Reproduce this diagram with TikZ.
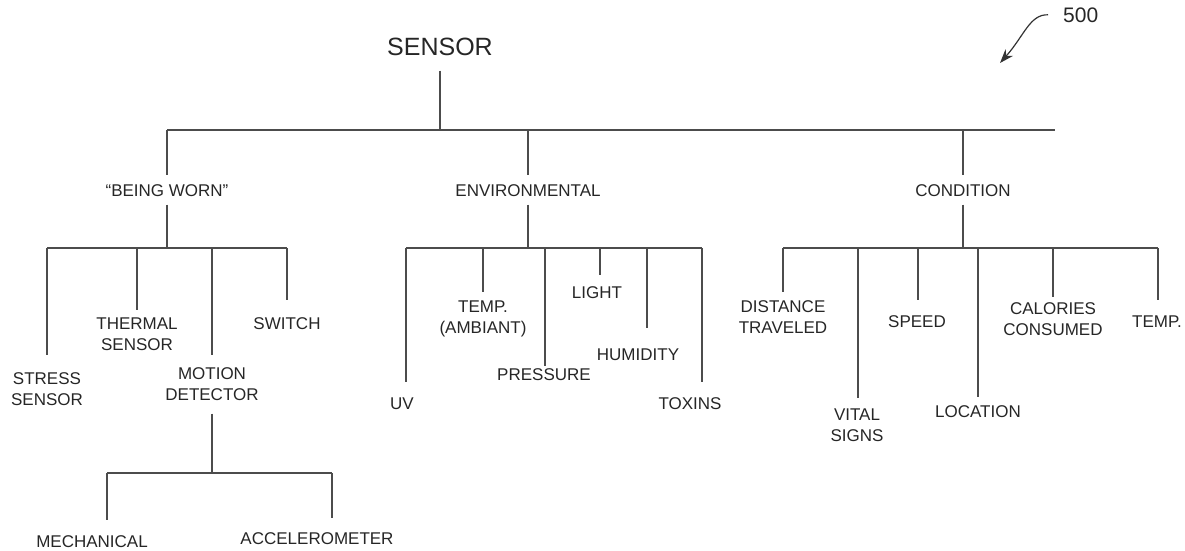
\documentclass[tikz,border=0pt]{standalone}
\usepackage{fontspec}
\setmainfont{Liberation Sans}
\usetikzlibrary{arrows.meta}

\begin{document}
\begin{tikzpicture}[x=1pt, y=-1pt, >=Stealth,
    lbl/.style={font=\fontsize{17}{21}\selectfont, align=center, inner sep=0pt, text height=12pt, anchor=north, text=black!85},
    lbltwo/.style={lbl, text height=33pt},
    branch/.style={line width=1.1pt, draw=black!70}]
    \useasboundingbox (0,0) rectangle (1185,550);

    % Root and reference numeral
    \node[lbl, font=\fontsize{25}{30}\selectfont, text height=18pt] (sensor) at (440,37) {SENSOR};
    \node[lbl, anchor=north west, font=\fontsize{21}{25}\selectfont, text height=15pt] (refnum) at (1063,7) {500};
    \coordinate (reftip) at (1000,63);
    \draw[line width=1.2pt, draw=black!80, -{Stealth[length=14pt, width=10pt]}] ([xshift=-15pt]refnum.west) .. controls (1030,14) and (1024,36) .. (reftip);

    % Main categories
    \node[lbl] (worn) at (167,184) {``BEING WORN''};
    \node[lbl] (env) at (528,184) {ENVIRONMENTAL};
    \node[lbl] (cond) at (963,184) {CONDITION};
    \coordinate (topbus) at (440,130);
    \coordinate (busend) at (1055,130);
    \draw[branch, shorten <=15pt] (sensor.south) -- (topbus);
    \draw[branch] (worn |- topbus) -- (busend);
    \foreach \n in {worn, env, cond}
        \draw[branch, shorten >=9pt] (\n |- topbus) -- (\n.north);

    % "Being worn" sensors
    \coordinate (wornbus) at (167,248);
    \node[lbltwo] (stress) at (47,372) {STRESS\\SENSOR};
    \node[lbltwo] (thermal) at (137,317) {THERMAL\\SENSOR};
    \node[lbltwo] (motion) at (212,367) {MOTION\\DETECTOR};
    \node[lbl] (switch) at (287,317) {SWITCH};
    \coordinate (stress-end) at (47,355);
    \coordinate (thermal-end) at (137,310);
    \coordinate (motion-end) at (212,355);
    \coordinate (switch-end) at (287,300);
    \draw[branch, shorten <=8pt] (worn.south) -- (wornbus);
    \draw[branch] (wornbus -| stress-end) -- (wornbus -| switch-end);
    \foreach \n in {stress, thermal, motion, switch}
        \draw[branch] (wornbus -| \n-end) -- (\n-end);

    % Motion detector types
    \coordinate (motionbus) at (212,473);
    \node[lbl] (mech) at (92,535) {MECHANICAL};
    \node[lbl] (accel) at (317,532) {ACCELEROMETER};
    \coordinate (mech-end) at (107,520);
    \coordinate (accel-end) at (332,518);
    \draw[branch, shorten <=13pt] (motion.south) -- (motionbus);
    \draw[branch] (motionbus -| mech-end) -- (motionbus -| accel-end);
    \foreach \n in {mech, accel}
        \draw[branch] (motionbus -| \n-end) -- (\n-end);

    % Environmental sensors
    \coordinate (envbus) at (528,248);
    \node[lbl] (uv) at (402,397) {UV};
    \node[lbltwo] (tempamb) at (483,300) {TEMP.\\(AMBIANT)};
    \node[lbl] (pressure) at (544,368) {PRESSURE};
    \node[lbl] (light) at (597,286) {LIGHT};
    \node[lbl] (humid) at (638,348) {HUMIDITY};
    \node[lbl] (toxins) at (690,397) {TOXINS};
    \coordinate (uv-end) at (406,382);
    \coordinate (tempamb-end) at (483,292);
    \coordinate (pressure-end) at (545,366);
    \coordinate (light-end) at (600,275);
    \coordinate (humid-end) at (647,328);
    \coordinate (toxins-end) at (702,382);
    \draw[branch, shorten <=8pt] (env.south) -- (envbus);
    \draw[branch] (envbus -| uv-end) -- (envbus -| toxins-end);
    \foreach \n in {uv, tempamb, pressure, light, humid, toxins}
        \draw[branch] (envbus -| \n-end) -- (\n-end);

    % Condition sensors
    \coordinate (condbus) at (963,248);
    \node[lbltwo] (distance) at (783,300) {DISTANCE\\TRAVELED};
    \node[lbltwo] (vital) at (857,408) {VITAL\\SIGNS};
    \node[lbl] (speed) at (917,315) {SPEED};
    \node[lbl] (location) at (978,405) {LOCATION};
    \node[lbltwo] (calories) at (1053,302) {CALORIES\\CONSUMED};
    \node[lbl] (tempc) at (1157,315) {TEMP.};
    \coordinate (distance-end) at (783,292);
    \coordinate (vital-end) at (858,398);
    \coordinate (speed-end) at (918,300);
    \coordinate (location-end) at (978,397);
    \coordinate (calories-end) at (1053,297);
    \coordinate (tempc-end) at (1158,300);
    \draw[branch, shorten <=8pt] (cond.south) -- (condbus);
    \draw[branch] (condbus -| distance-end) -- (condbus -| tempc-end);
    \foreach \n in {distance, vital, speed, location, calories, tempc}
        \draw[branch] (condbus -| \n-end) -- (\n-end);
\end{tikzpicture}
\end{document}
